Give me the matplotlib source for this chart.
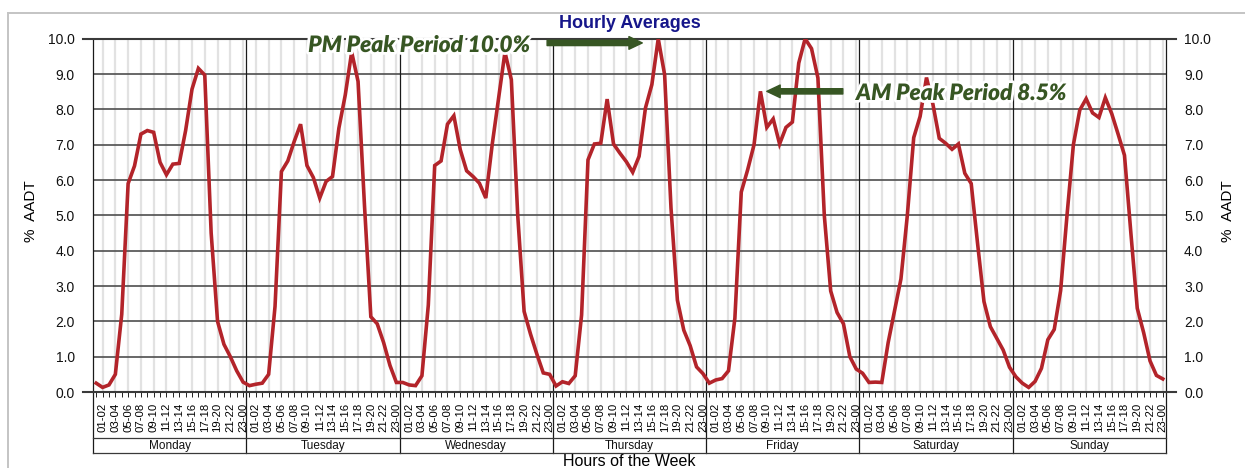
import matplotlib
matplotlib.use("Agg")
import matplotlib.pyplot as plt
import numpy as np
import matplotlib.patheffects as pe
import matplotlib.transforms as mtransforms
from matplotlib.patches import FancyArrowPatch, ArrowStyle
from matplotlib.lines import Line2D

# ---------------- data ----------------
days = ["Monday", "Tuesday", "Wednesday", "Thursday", "Friday", "Saturday", "Sunday"]

monday = [0.25, 0.13, 0.20, 0.50, 2.20, 5.90, 6.40, 7.30, 7.40, 7.35, 6.50, 6.15,
          6.45, 6.47, 7.40, 8.57, 9.16, 8.97, 4.50, 2.00, 1.35, 1.00, 0.60, 0.28]
tuesday = [0.18, 0.22, 0.25, 0.50, 2.42, 6.24, 6.54, 7.09, 7.58, 6.41, 6.07, 5.49,
           5.96, 6.10, 7.47, 8.41, 9.62, 8.79, 5.30, 2.13, 1.93, 1.40, 0.75, 0.27]
wednesday = [0.27, 0.20, 0.18, 0.46, 2.46, 6.41, 6.54, 7.58, 7.82, 6.86, 6.26, 6.10,
             5.91, 5.49, 7.00, 8.32, 9.62, 8.84, 5.00, 2.28, 1.64, 1.07, 0.54, 0.50]
thursday = [0.17, 0.29, 0.24, 0.46, 2.18, 6.57, 7.02, 7.04, 8.29, 7.02, 6.76, 6.52,
            6.22, 6.67, 8.04, 8.70, 10.00, 8.98, 5.20, 2.60, 1.75, 1.31, 0.71, 0.52]
friday = [0.25, 0.34, 0.38, 0.60, 2.09, 5.66, 6.29, 7.00, 8.51, 7.49, 7.73, 7.02,
          7.49, 7.64, 9.31, 10.00, 9.72, 8.89, 5.00, 2.86, 2.25, 1.93, 1.00, 0.65]
saturday = [0.53, 0.27, 0.28, 0.27, 1.40, 2.30, 3.20, 5.00, 7.20, 7.80, 8.90, 8.15,
            7.18, 7.04, 6.87, 7.02, 6.19, 5.90, 4.20, 2.56, 1.85, 1.52, 1.19, 0.70]
sunday = [0.43, 0.25, 0.13, 0.30, 0.67, 1.48, 1.77, 2.87, 5.00, 7.00, 7.98, 8.30,
          7.90, 7.77, 8.33, 7.88, 7.30, 6.70, 4.50, 2.37, 1.68, 0.88, 0.47, 0.37]

week = [monday, tuesday, wednesday, thursday, friday, saturday, sunday]
hour_labels = [f"{h:02d}-{(h + 1) % 24:02d}" if h % 2 == 1 else "" for h in range(24)]
y_ticks = [0, 1, 2, 3, 4, 5, 6, 7, 8, 9, 10]

title = "Hourly Averages"
y_label = "%  AADT"
x_label = "Hours of the Week"
pm_text = "PM Peak Period 10.0%"
am_text = "AM Peak Period 8.5%"

# ---------------- style ----------------
W, H = 1245, 468
BASE = ["Liberation Sans", "DejaVu Sans"]
plt.rcParams["font.family"] = BASE
LINE_C = "#b3242a"
GREEN = "#375623"
NAVY = "#16168a"

fig = plt.figure(figsize=(W / 100, H / 100), dpi=100)
fig.patch.set_facecolor("white")

def fx(px):
    return px / W

def fy(py):
    return 1 - py / H

L, R, T, B = 93, 1166, 38.7, 392
ax = fig.add_axes([fx(L), fy(B), (R - L) / W, (B - T) / H])

values = np.concatenate([np.asarray(d, float) for d in week])
n = len(values)
x = np.arange(n)
ax.set_xlim(-0.5, n - 0.5)
ax.set_ylim(0, 10)

for s in ax.spines.values():
    s.set_visible(False)

# light vertical grid (odd hours)
for d in range(7):
    for h in range(1, 24, 2):
        ax.axvline(24 * d + h, color="#e2e2e2", lw=1.6, zorder=1)
# horizontal grid
for v in y_ticks[1:-1]:
    ax.axhline(v, color="#555555", lw=1.25, zorder=2)

# day separators extending through label area
trans = mtransforms.blended_transform_factory(ax.transData, ax.transAxes)
y_bot = -(453 - B) / (B - T)
y_mid = -(438 - B) / (B - T)
y_day = -(446.3 - B) / (B - T)
for d in range(8):
    ax.add_line(Line2D([24 * d - 0.5] * 2, [y_bot, 1], transform=trans,
                       color="#1a1a1a", lw=0.9, clip_on=False, zorder=3))
for yy in (y_mid, y_bot):
    ax.add_line(Line2D([0, 1], [yy, yy], transform=ax.transAxes,
                       color="#3a3a3a", lw=0.9, clip_on=False, zorder=3))
ext = 10 / (R - L)
for yy in (0, 1):
    ax.add_line(Line2D([-ext, 1 + ext], [yy, yy], transform=ax.transAxes,
                       color="#3a3a3a", lw=1.5, clip_on=False, zorder=3))

for d, name in enumerate(days):
    ax.text(24 * d + 11.5, y_day, name, transform=trans, ha="center", va="center",
            fontsize=8.5, color="#111111")

# data line
ax.plot(x, values, color=LINE_C, lw=2.6, zorder=5, solid_joinstyle="miter")

# ticks
ax.set_xticks(x)
ax.set_xticklabels(hour_labels * 7, rotation=90, fontsize=8.2)
ax.tick_params(axis="x", length=3.6, width=0.7, pad=4.0, direction="out", color="#222222")
ax.set_yticks(y_ticks)
ax.set_yticklabels([f"{v:.1f}" for v in y_ticks])
ax.tick_params(axis="y", length=0, pad=13, labelsize=10, labelleft=True, labelright=True)
for lab in ax.get_yticklabels():
    lab.set_color("#111111")

# axis labels / title
fig.text(fx(31), fy(211.5), y_label, rotation=90, ha="center", va="center", fontsize=11)
fig.text(fx(1228), fy(211.5), y_label, rotation=90, ha="center", va="center", fontsize=11)
fig.text(fx(629.5), fy(466), x_label, ha="center", va="baseline", fontsize=11.5)
fig.text(fx(629.5), fy(24), title, ha="center", va="center", fontsize=13,
         fontweight="bold", color=NAVY)

# outer frame
fig.add_artist(Line2D([fx(8), 1.0], [fy(13), fy(13)], transform=fig.transFigure,
                      color="#c4c4c4", lw=1.4))
fig.add_artist(Line2D([fx(8), fx(8)], [0, fy(13)], transform=fig.transFigure,
                      color="#c4c4c4", lw=1.4))

# annotations
glow = [pe.withStroke(linewidth=4, foreground="white")]
ann_font = dict(family=["Lato", "DejaVu Sans"], fontweight="heavy", style="italic",
                fontsize=16.3, color=GREEN)
fig.text(fx(530), fy(52), pm_text, ha="right", va="baseline", path_effects=glow, zorder=10,
         **ann_font)
fig.text(fx(856), fy(100), am_text, ha="left", va="baseline", path_effects=glow, zorder=10,
         **ann_font)

thu = 3 * 24
fri = 4 * 24
pm_idx = thu + int(np.argmax(thursday))
am_idx = fri + int(np.argmax(friday[:12]))
astyle = ArrowStyle.Simple(head_length=0.96, head_width=0.91, tail_width=0.38)
pm_arrow = FancyArrowPatch((pm_idx - 17.4, 9.88), (pm_idx - 2.5, 9.88), arrowstyle=astyle,
                           mutation_scale=10, color=GREEN, shrinkA=0, shrinkB=0,
                           zorder=9, clip_on=False)
am_arrow = FancyArrowPatch((am_idx + 12.9, friday[8]), (am_idx + 1.0, friday[8]),
                           arrowstyle=astyle, mutation_scale=10, color=GREEN,
                           shrinkA=0, shrinkB=0, zorder=9, clip_on=False)
ax.add_patch(pm_arrow)
ax.add_patch(am_arrow)

fig.savefig("out.png", dpi=100, facecolor="white")
